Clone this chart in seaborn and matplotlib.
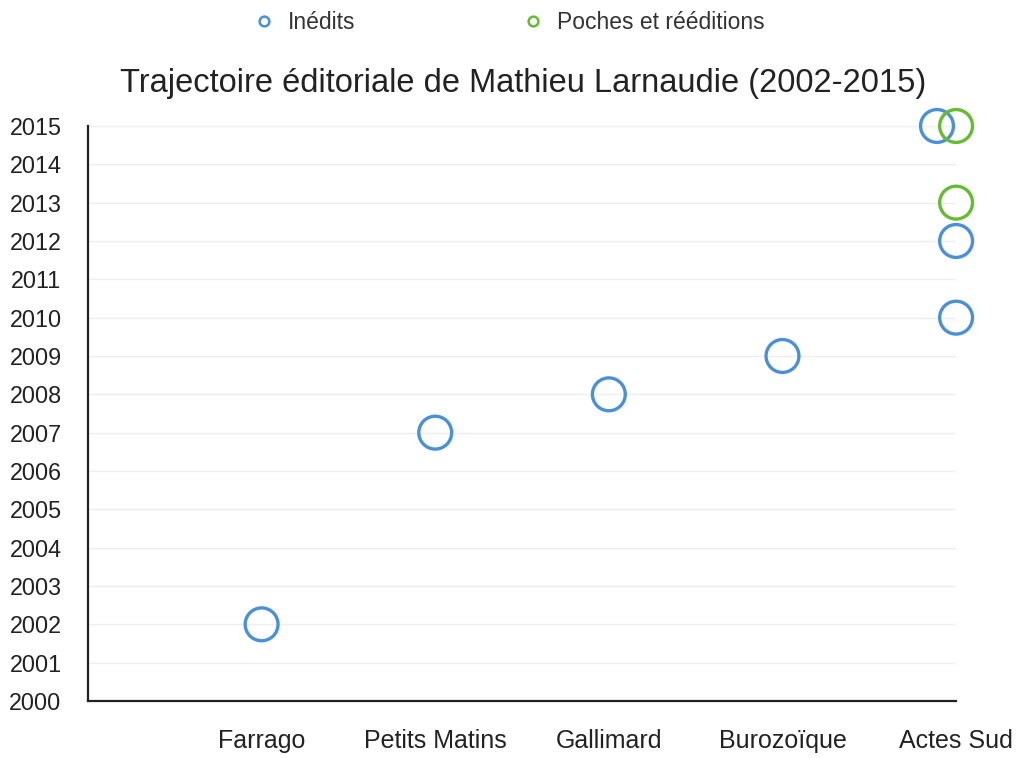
import pandas as pd
import matplotlib
matplotlib.use('Agg')
import matplotlib.pyplot as plt
import seaborn as sns
from matplotlib.lines import Line2D

# Data
editeurs = ['Farrago', 'Petits Matins', 'Gallimard', 'Burozoïque', 'Actes Sud']

inedits_editeur = ['Farrago', 'Petits Matins', 'Gallimard', 'Burozoïque',
                   'Actes Sud', 'Actes Sud', 'Actes Sud']
inedits_annee = [2002, 2007, 2008, 2009, 2010, 2012, 2015]

poches_editeur = ['Actes Sud', 'Actes Sud']
poches_annee = [2013, 2015]

blue = '#4a90d9'
green = '#66bb33'

sns.set_style('white')
plt.rcParams['font.family'] = ['Liberation Sans', 'DejaVu Sans']

pos = {e: i + 1 for i, e in enumerate(editeurs)}

df_in = pd.DataFrame({'editeur': inedits_editeur, 'annee': inedits_annee})
df_po = pd.DataFrame({'editeur': poches_editeur, 'annee': poches_annee})
df_in['x'] = df_in['editeur'].map(pos).astype(float)
df_po['x'] = df_po['editeur'].map(pos).astype(float)

# shift overlapping points a little so both stay visible
shared = set(zip(df_po['editeur'], df_po['annee']))
overlap = [(e, a) in shared for e, a in zip(df_in['editeur'], df_in['annee'])]
df_in.loc[overlap, 'x'] -= 0.11

fig = plt.figure(figsize=(10.23, 7.58), dpi=100)
ax = fig.add_axes([0.086, 0.0752, 0.8486, 0.7586])

for d, c in [(df_in, blue), (df_po, green)]:
    sns.scatterplot(data=d, x='x', y='annee', ax=ax, color=c, edgecolor=c,
                    s=560, linewidth=2.4, zorder=3, legend=False)
    ax.collections[-1].set_facecolor('none')
    ax.collections[-1].set_clip_on(False)

ax.set_xlim(0, 5)
ax.set_ylim(2000, 2015)
ax.set_xticks(list(pos.values()))
ax.set_xticklabels(editeurs, fontsize=18, color='#222222')
ax.set_yticks(range(2000, 2016))
ax.tick_params(axis='y', labelsize=16.8, colors='#222222', length=0, pad=19)
ax.tick_params(axis='x', length=0, pad=20)
ax.set_xlabel('')
ax.set_ylabel('')

for yv in range(2001, 2016):
    ax.axhline(yv, color='#eeeeee', linewidth=1, zorder=0)

sns.despine(ax=ax, top=True, right=True)
ax.spines['left'].set_color('#222222')
ax.spines['bottom'].set_color('#222222')
ax.spines['left'].set_linewidth(1.6)
ax.spines['bottom'].set_linewidth(1.6)

fig.text(0.511, 0.89, 'Trajectoire éditoriale de Mathieu Larnaudie (2002-2015)',
         ha='center', va='center', fontsize=23.5, color='#222222')

handles = [
    Line2D([], [], marker='o', linestyle='', markersize=7, markerfacecolor='none',
           markeredgecolor=blue, markeredgewidth=1.8, label='Inédits'),
    Line2D([], [], marker='o', linestyle='', markersize=7, markerfacecolor='none',
           markeredgecolor=green, markeredgewidth=1.8, label='Poches et rééditions'),
]
fig.legend(handles=handles, loc='center', bbox_to_anchor=(0.497, 0.970), ncol=2,
           frameon=False, fontsize=16.5, columnspacing=7.27, handlelength=1,
           handletextpad=0.55, labelcolor='#333333')

plt.savefig('out.png', dpi=100)
